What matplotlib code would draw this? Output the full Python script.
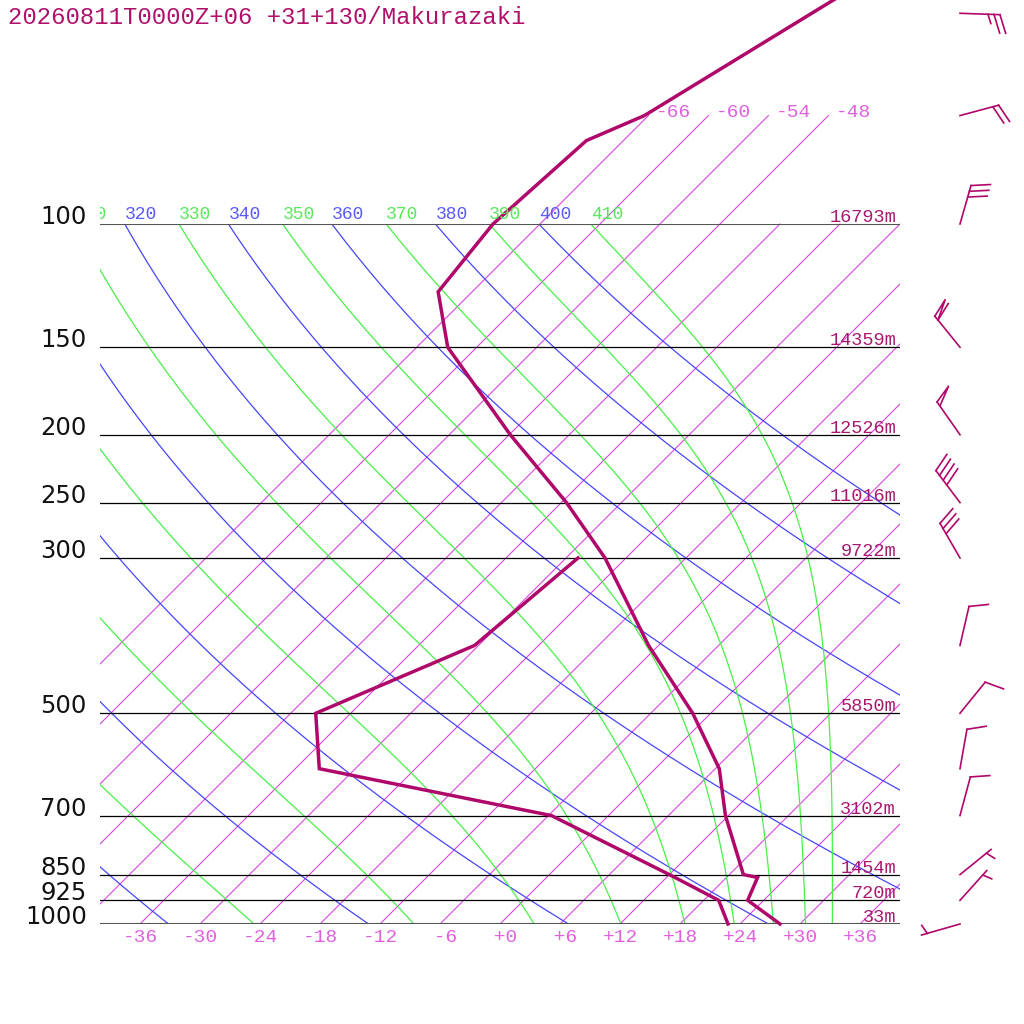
import numpy as np
import matplotlib
matplotlib.use("Agg")
import matplotlib.pyplot as plt
from matplotlib.patches import Rectangle
from matplotlib.transforms import offset_copy, blended_transform_factory, IdentityTransform
from matplotlib.lines import Line2D

title = "20260811T0000Z+06 +31+130/Makurazaki"

# sounding (hPa, degC)
prs_t = [1000, 925, 858, 850, 700, 600, 500, 400, 300, 250, 200, 150, 125, 100, 76, 70, 50, 30]
temp = [28.0, 22.4, 21.1, 19.4, 11.7, 6.4, -1.8, -13.0, -26.1, -35.5, -47.9, -62.9, -69.4, -70.7, -69.7, -66.4, -59.9, -50.0]
prs_d = [1000, 925, 850, 700, 600, 500, 400, 300]
dewp = [22.8, 19.5, 12.0, -5.7, -33.6, -39.5, -30.4, -28.8]

# standard levels and geopotential heights
std_lev = [1000, 925, 850, 700, 500, 300, 250, 200, 150, 100]
heights = ["33m", "720m", "1454m", "3102m", "5850m", "9722m", "11016m", "12526m", "14359m", "16793m"]

# winds (direction from, knots)
wind_p = [1000, 925, 850, 700, 600, 500, 400, 300, 250, 200, 150, 100, 70, 50]
wind_dir = [254, 42, 51, 15, 10, 39, 13, 330, 323, 325, 321, 16, 75, 92]
wind_kt = [5, 5, 5, 10, 10, 10, 10, 30, 40, 50, 60, 30, 20, 25]

isotherms = list(range(-66, 37, 6))
dry_theta = list(range(240, 401, 20))
moist_thetae = list(range(250, 411, 20))
temp_ticks = list(range(-36, 37, 6))

SKEW = 30.4
RED = "#b0086a"
MONO = "Liberation Mono"


def skx(t, p):
    return np.asarray(t, float) + SKEW * np.log(1000.0 / np.asarray(p, float))


def es_hpa(tc):
    return 6.112 * np.exp(17.67 * tc / (tc + 243.5))


def thetae_sat(tc, p):
    tk = tc + 273.15
    e = es_hpa(tc)
    r = 0.622 * e / np.maximum(p - e, 1e-3)
    return tk * (1000.0 / p) ** (0.2854 * (1 - 0.28 * r)) * np.exp((3.376 / tk - 0.00254) * r * 1000 * (1 + 0.81 * r))


def moist_t(te, p):
    lo = np.full_like(p, -120.0)
    hi = np.full_like(p, 40.0)
    for _ in range(60):
        mid = 0.5 * (lo + hi)
        big = thetae_sat(mid, p) > te
        hi = np.where(big, mid, hi)
        lo = np.where(big, lo, mid)
    return 0.5 * (lo + hi)


fig = plt.figure(figsize=(10.24, 10.24), dpi=100)
ax = fig.add_axes([100 / 1024, 100 / 1024, 800 / 1024, 700 / 1024])
ax.set_yscale("log")
ax.set_xlim(-40, 40)
ax.set_ylim(1000, 100)
ax.set_axis_off()

tall = Rectangle((0, 0), 1, 3, transform=ax.transAxes, fill=False)


def adiabat_label(x, txt, col):
    # labels sit above the 100 hPa line, cut at the left edge of the diagram
    if x < -45:
        return
    t = ax.text(x, 100, txt, color=col, family=MONO, size=13,
                transform=offset_copy(ax.transData, fig=fig, x=0, y=5, units="dots"),
                ha="left", va="baseline", clip_on=True)
    t.set_clip_path(tall)


pc = np.geomspace(1000, 100, 150)

# isotherms: the cold ones run up to 70 hPa with a label
for t in isotherms:
    xe = skx(t, 70)
    top = 70 if xe < 36 else 100
    ln, = ax.plot(skx([t, t], [1000, top]), [1000, top], color="#dc46e0", lw=0.8)
    ln.set_clip_path(tall)
    if top == 70:
        ax.text(xe, 70, f"{t:d}", color="#e060e0", family=MONO, size=14,
                transform=offset_copy(ax.transData, fig=fig, x=7, y=-1, units="dots"),
                ha="left", va="baseline", clip_on=False)

# dry adiabats
for th in dry_theta:
    tt = th * (pc / 1000.0) ** 0.286 - 273.15
    ax.plot(skx(tt, pc), pc, color="#4646ff", lw=0.9)
    adiabat_label(skx(tt[-1], 100), str(th), "#5a5aff")

# moist adiabats
for te in moist_thetae:
    tt = moist_t(float(te), pc)
    ax.plot(skx(tt, pc), pc, color="#48f048", lw=0.9)
    adiabat_label(skx(tt[-1], 100), str(te), "#58e858")

# isobars
for p in std_lev:
    edge = p in (100, 1000)
    ax.plot([-40, 40], [p, p], color="#555555" if edge else "black", lw=1.5 if edge else 0.9)

lab_tr = offset_copy(blended_transform_factory(ax.transAxes, ax.transData), fig=fig, x=-13, y=0, units="dots")
hgt_tr = offset_copy(blended_transform_factory(ax.transAxes, ax.transData), fig=fig, x=-4, y=2, units="dots")
for p, h in zip(std_lev, heights):
    ax.text(0, p, str(p), transform=lab_tr, ha="right", va="baseline",
            family="DejaVu Sans", size=17.5, color="#111111", clip_on=False)
    ax.text(1, p, h, transform=hgt_tr, ha="right", va="baseline",
            family=MONO, size=13.4, color="#a8186e", clip_on=False)

# temperature axis labels
tick_tr = offset_copy(ax.transData, fig=fig, x=0, y=-18, units="dots")
for t in temp_ticks:
    ax.text(t, 1000, f"{t:+d}".rjust(3), transform=tick_tr, ha="center", va="baseline",
            family=MONO, size=14, color="#e060e0", clip_on=False)

# sounding
ax.plot(skx(temp, prs_t), prs_t, color=RED, lw=2.5, clip_on=False, solid_joinstyle="miter")
ax.plot(skx(dewp, prs_d), prs_d, color=RED, lw=2.5, clip_on=False, solid_joinstyle="miter")

# wind barbs, drawn in pixels
STATION_X = 46.0
L, F = 40.0, 19.5
ang = np.radians(71)
for p, wd, ws in zip(wind_p, wind_dir, wind_kt):
    x0, y0 = ax.transData.transform((STATION_X, p))
    d = np.radians(wd)
    ux, uy = np.sin(d), np.cos(d)
    fx = ux * np.cos(ang) + uy * np.sin(ang)
    fy = -ux * np.sin(ang) + uy * np.cos(ang)

    def pt(s):
        return x0 + s * ux, y0 + s * uy

    segs = [[pt(0), pt(L)]]
    n50 = ws // 50
    n10 = (ws - 50 * n50) // 10
    n5 = (ws - 50 * n50 - 10 * n10) // 5
    pos = L
    for _ in range(n50):
        a = pt(pos)
        segs.append([a, (a[0] + F * fx, a[1] + F * fy), pt(pos - 5)])
        pos -= 5
    for _ in range(n10):
        a = pt(pos)
        segs.append([a, (a[0] + F * fx, a[1] + F * fy)])
        pos -= 6
    if n5:
        if n50 == 0 and n10 == 0:
            pos = L - 6
        a = pt(pos)
        segs.append([a, (a[0] + 0.5 * F * fx, a[1] + 0.5 * F * fy)])
    for s in segs:
        xs, ys = zip(*s)
        fig.add_artist(Line2D(xs, ys, transform=IdentityTransform(), color=RED, lw=1.2))

fig.text(8 / 1024, 1 - 24 / 1024, title, ha="left", va="baseline",
         family=MONO, size=17.2, color="#b0106a")

fig.savefig("out.png", dpi=100)
